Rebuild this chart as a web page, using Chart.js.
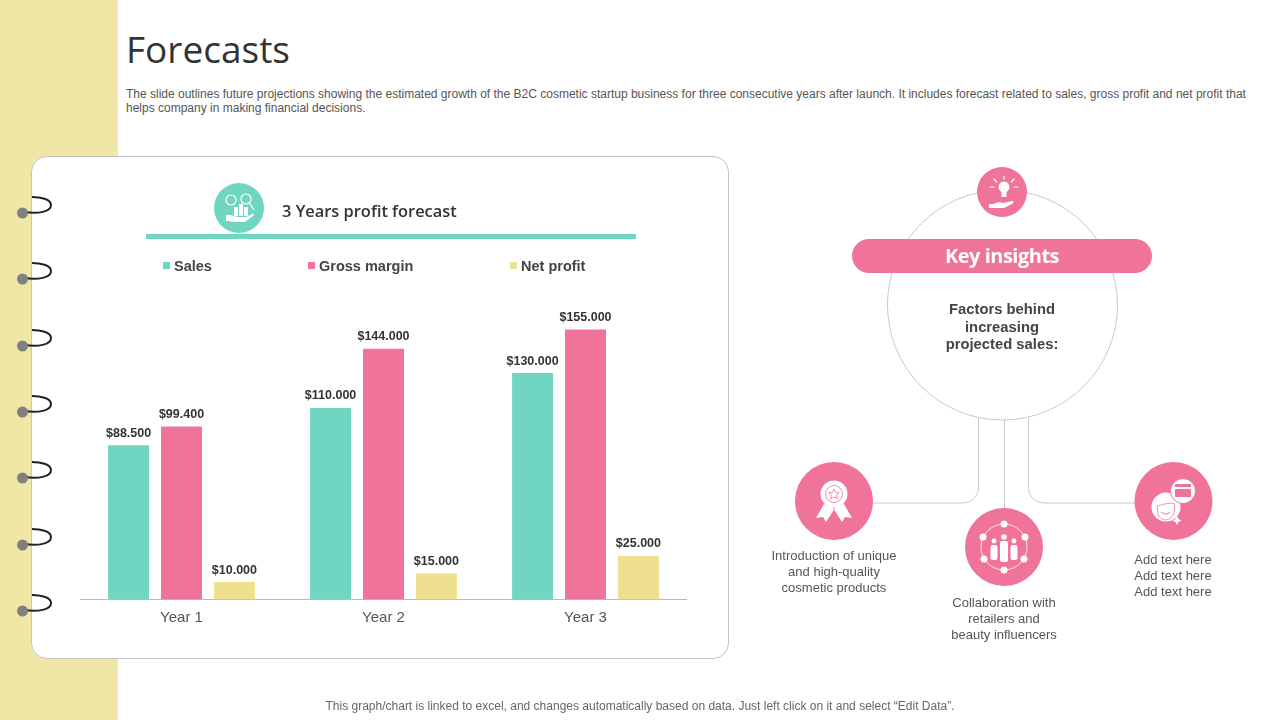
<!DOCTYPE html>
<html>
<head>
<meta charset="utf-8">
<title>Forecasts</title>
<script src="https://cdn.jsdelivr.net/npm/chart.js@4/dist/chart.umd.min.js"></script>
<style>
  html, body { margin: 0; padding: 0; background: #fff; }
  #page { position: relative; width: 1280px; height: 720px; overflow: hidden; font-family: "Liberation Sans", Arial, sans-serif; color: #444; }
  #page > * { position: absolute; }
  .band { left: 0; top: 0; width: 118px; height: 720px; background: #f0e6a6; }
  h1 { margin: 0; left: 126px; top: 25px; font: 400 37px/48px "Open Sans", sans-serif; color: #333; }
  .desc { left: 126px; top: 87px; width: 1130px; font-size: 12px; line-height: 14px; color: #555; white-space: nowrap; }
  .card { left: 31px; top: 156px; width: 696px; height: 501px; background: #fff; border: 1px solid #c4c4c4; border-radius: 16px; }
  #rings, #right { left: 0; top: 0; }
  #forecast { left: 32px; top: 157px; }
  .chart-title { left: 282px; top: 199px; font: 600 16.4px/24px "Open Sans", sans-serif; color: #333; white-space: nowrap; }
  .rule { left: 146px; top: 234px; width: 490px; height: 5px; background: #70d6c1; }
  .legend-item { top: 257px; font-size: 14.5px; line-height: 18px; font-weight: bold; color: #444; white-space: nowrap; }
  .legend-item i { display: inline-block; width: 7px; height: 7px; margin-right: 4px; vertical-align: 2px; }
  .pill { left: 852px; top: 239px; width: 300px; height: 34px; border-radius: 17px; background: #f07399; color: #fff; text-align: center; font: 700 20px/34px "Open Sans", sans-serif; letter-spacing: -0.5px; }
  .factors { left: 902px; top: 301px; width: 200px; text-align: center; font-size: 14.8px; line-height: 17.5px; font-weight: bold; color: #444; }
  .note { width: 190px; text-align: center; font-size: 13px; line-height: 16px; color: #555; white-space: nowrap; }
  .footer { left: 0; top: 699px; width: 1280px; text-align: center; font-size: 12px; line-height: 15px; color: #666; }
</style>
</head>
<body>
<div id="page">
  <div class="band"></div>
  <h1>Forecasts</h1>
  <div class="desc">The slide outlines future projections showing the estimated growth of the B2C cosmetic startup business for three consecutive years after launch. It includes forecast related to sales, gross profit and net profit that<br>helps company in making financial decisions.</div>
  <div class="card"></div>

  <svg id="rings" width="120" height="720" style="overflow:visible"></svg>

  <canvas id="forecast" width="696" height="500"></canvas>

  <svg style="left:214px;top:183px" width="50" height="50" viewBox="0 0 50 50">
    <circle cx="25" cy="25" r="25" fill="#70d6c1"/>
    <g fill="none" stroke="#fff" stroke-width="1.2">
      <circle cx="17" cy="17" r="5"/>
      <circle cx="32" cy="16" r="5"/>
      <path d="M35.5 20 L40 27"/>
    </g>
    <g fill="#fff">
      <rect x="20" y="24" width="4" height="9"/>
      <rect x="25" y="21" width="4" height="12"/>
      <rect x="30" y="24" width="4" height="9"/>
      <path d="M12 32 h3 c4 0 6 2 10 2 h7 l6 -3 c2 -1 3 1 1 2 l-8 6 h-12 l-4 -1 h-3 z"/>
    </g>
  </svg>
  <div class="chart-title">3 Years profit forecast</div>
  <div class="rule"></div>
  <div id="legend"></div>

  <svg id="right" width="1280" height="720" style="pointer-events:none">
    <g fill="none" stroke="#c8c8c8" stroke-width="1">
      <circle cx="1002.5" cy="305" r="115"/>
      <path d="M978.500 418 V488 a15 15 0 0 1 -15 15 H873"/>
      <path d="M1004.500 420 V508"/>
      <path d="M1028.500 418 V488 a15 15 0 0 0 15 15 H1135"/>
    </g>
    <circle cx="1002" cy="192" r="25" fill="#f07399"/>
    <g fill="#fff" stroke="#fff" stroke-linecap="round">
      <circle cx="1004" cy="187" r="5.5" stroke="none"/>
      <rect x="1001.500" y="192" width="5" height="5" stroke="none"/>
      <path d="M1004 176 V179 M994 179 l2.500 3 M1014 179 l-2.500 3 M990 187 h4 M1014 187 h4" fill="none" stroke-width="1.2"/>
      <path d="M989 204 h5 c3 -2 6 -2 9 -1 l9 -2 c2 0 2 2 0 3 l-8 4 h-15 z" stroke="none"/>
    </g>
    <circle cx="834" cy="501" r="39" fill="#f07399"/>
    <g fill="#fff">
      <path d="M824 504 l-8 14 7 -1 3 5 9 -14 z M844 504 l8 14 -7 -1 -3 5 -9 -14 z"/>
      <circle cx="834" cy="494" r="13.500"/>
      <circle cx="834" cy="494" r="8.500" fill="none" stroke="#f07399" stroke-width="0.8"/>
      <path d="M834 489 l1.600 3.400 3.600 0.400 -2.700 2.400 0.800 3.600 -3.300 -1.800 -3.300 1.800 0.800 -3.600 -2.700 -2.400 3.600 -0.400 z" fill="none" stroke="#f07399" stroke-width="0.8"/>
    </g>
    <circle cx="1004" cy="547" r="39" fill="#f07399"/>
    <g fill="#fff">
      <circle cx="1004" cy="547" r="23" fill="none" stroke="#fff" stroke-width="0.8"/>
      <circle cx="1004" cy="524" r="3.5"/><circle cx="1004" cy="570" r="3.5"/>
      <circle cx="983" cy="537" r="3.5"/><circle cx="1025" cy="537" r="3.5"/>
      <circle cx="984" cy="559" r="3.5"/><circle cx="1024" cy="559" r="3.5"/>
      <circle cx="1004" cy="537" r="2.8"/><rect x="1000" y="541" width="8" height="21" rx="2"/>
      <circle cx="994" cy="541" r="2.4"/><rect x="990.500" y="545" width="7" height="15" rx="2"/>
      <circle cx="1014" cy="541" r="2.4"/><rect x="1010.500" y="545" width="7" height="15" rx="2"/>
    </g>
    <circle cx="1173.5" cy="501" r="39" fill="#f07399"/>
    <g>
      <circle cx="1166" cy="507" r="14.500" fill="#fff"/>
      <path d="M1157 506 q9 -3 17 -3 q2 8 -1 12 q-3 5 -7 5 q-6 0 -8 -6 z" fill="#fff" stroke="#f07399" stroke-width="0.8"/>
      <path d="M1161 512 q5 4 9 0" fill="none" stroke="#f07399"/>
      <circle cx="1183" cy="491" r="12.500" fill="#fff" stroke="#f07399"/>
      <rect x="1175" y="484" width="16" height="3" fill="#f07399"/>
      <rect x="1175" y="489" width="16" height="8" fill="#f07399"/>
      <path d="M1177 516 l1.500 3 3 1.500 -3 1.500 -1.500 3 -1.500 -3 -3 -1.500 3 -1.500 z" fill="#fff"/>
    </g>
  </svg>

  <div class="pill">Key insights</div>
  <div class="factors">Factors behind<br>increasing<br>projected sales:</div>
  <div class="note" style="left:739px;top:548px">Introduction of unique<br>and high-quality<br>cosmetic products</div>
  <div class="note" style="left:909px;top:595px">Collaboration with<br>retailers and<br>beauty influencers</div>
  <div class="note" style="left:1078px;top:552px">Add text here<br>Add text here<br>Add text here</div>
  <div class="footer">This graph/chart is linked to excel, and changes automatically based on data. Just left click on it and select “Edit Data”.</div>
</div>

<script>
const categories = ['Year 1', 'Year 2', 'Year 3'];
const sales = [88500, 110000, 130000];
const grossMargin = [99400, 144000, 155000];
const netProfit = [10000, 15000, 25000];

// spiral binding rings down the left edge
const ringRows = [213, 279, 346, 412, 478, 545, 611];
document.getElementById('rings').innerHTML = ringRows.map(y =>
  `<path d="M24 ${y - 1} C38 ${y + 1} 51 ${y - 1} 51 ${y - 8} C51 ${y - 14} 40 ${y - 16} 32 ${y - 16}" fill="none" stroke="#222" stroke-width="2"/>` +
  `<circle cx="22.500" cy="${y}" r="5.500" fill="#808080"/>`
).join('');

const money = v => '$' + String(v).replace(/\B(?=(\d{3})+$)/g, '.');

const barLabels = {
  id: 'barLabels',
  afterDatasetsDraw(chart) {
    const { ctx } = chart;
    ctx.save();
    ctx.font = 'bold 12.5px "Liberation Sans", Arial, sans-serif';
    ctx.fillStyle = '#333';
    ctx.textAlign = 'center';
    ctx.textBaseline = 'alphabetic';
    chart.data.datasets.forEach((ds, i) => {
      chart.getDatasetMeta(i).data.forEach((bar, j) => {
        ctx.fillText(money(ds.data[j]), bar.x, bar.y - 8.5);
      });
    });
    ctx.restore();
  }
};

const forecastChart = new Chart(document.getElementById('forecast').getContext('2d'), {
  type: 'bar',
  data: {
    labels: categories,
    datasets: [
      { label: 'Sales', data: sales, backgroundColor: '#70d6c1' },
      { label: 'Gross margin', data: grossMargin, backgroundColor: '#f07399' },
      { label: 'Net profit', data: netProfit, backgroundColor: '#efe08f' }
    ]
  },
  options: {
    responsive: false,
    animation: false,
    layout: { padding: { left: 48.5, right: 41.5, top: 129, bottom: 27.5 } },
    datasets: { bar: { categoryPercentage: 0.786, barPercentage: 0.774 } },
    plugins: { legend: { display: false }, title: { display: false }, tooltip: { enabled: false } },
    scales: {
      x: {
        grid: { display: false },
        border: { color: '#bbb' },
        ticks: { color: '#555', padding: 1, font: { size: 15, family: '"Liberation Sans", Arial, sans-serif' } },
        afterFit: scale => { scale.height = 30; }
      },
      y: { display: false, min: 0, max: 180000 }
    }
  },
  plugins: [barLabels]
});

// legend sits at uneven spacing in the slide, so it is html built from the datasets
const legendLeft = [163, 308, 510];
document.getElementById('legend').innerHTML = forecastChart.data.datasets.map((ds, i) =>
  `<div class="legend-item" style="position:absolute;left:${legendLeft[i]}px"><i style="background:${ds.backgroundColor}"></i>${ds.label}</div>`
).join('');
</script>
</body>
</html>
